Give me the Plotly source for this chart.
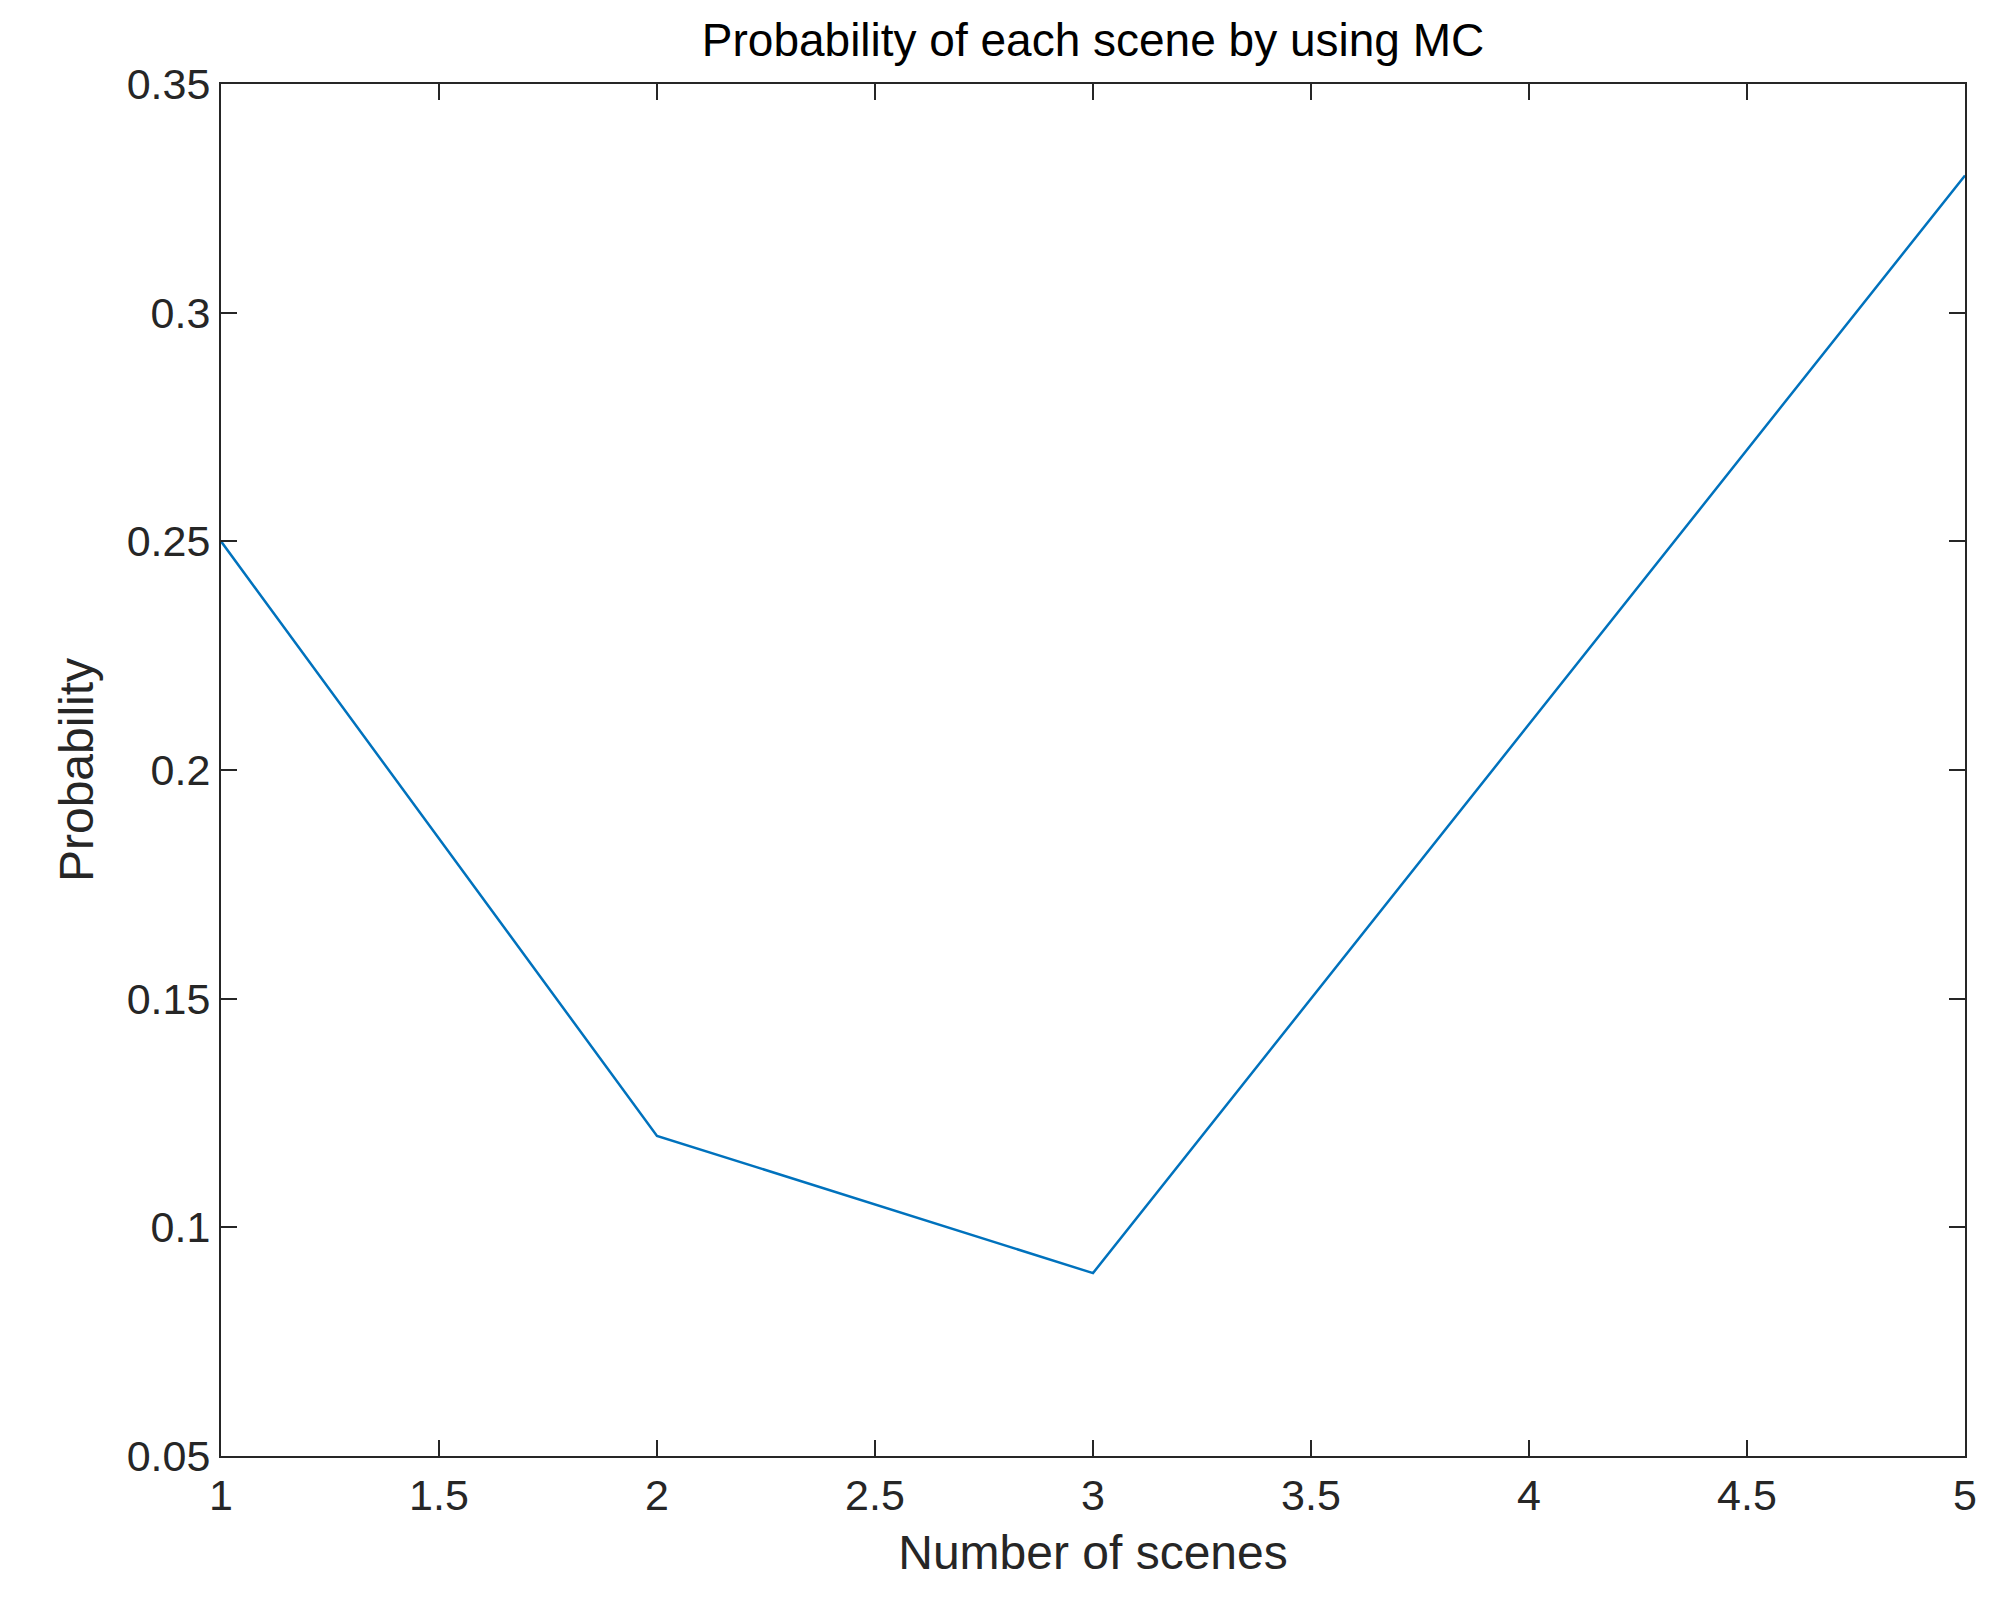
import plotly.graph_objects as go

scenes = [1, 2, 3, 4, 5]
probability = [0.25, 0.12, 0.09, 0.21, 0.33]
x_ticks = [1, 1.5, 2, 2.5, 3, 3.5, 4, 4.5, 5]
y_ticks = [0.05, 0.1, 0.15, 0.2, 0.25, 0.3, 0.35]

fig = go.Figure(go.Scatter(x=scenes, y=probability, mode="lines",
                           line=dict(color="#0072BD", width=2.5)))
axis_common = dict(showline=True, mirror="ticks", linecolor="#262626", linewidth=2,
                   ticks="inside", ticklen=16, tickwidth=2, tickcolor="#262626",
                   showgrid=False, zeroline=False,
                   tickfont=dict(size=43, color="#262626"))
fig.update_xaxes(range=[1, 5], tickvals=x_ticks, ticktext=[f"{v:g}" for v in x_ticks],
                 title=dict(text="Number of scenes", font=dict(size=48, color="#262626"), standoff=18),
                 **axis_common)
fig.update_yaxes(range=[0.05, 0.35], tickvals=y_ticks, ticktext=[f"{v:g}" for v in y_ticks],
                 title=dict(text="Probability", font=dict(size=48, color="#262626"), standoff=18),
                 **axis_common)
fig.update_layout(
    width=1999, height=1621,
    margin=dict(l=213, r=42, t=76, b=173),
    plot_bgcolor="white", paper_bgcolor="white",
    font=dict(family="Liberation Sans, Arial, sans-serif", color="#262626"),
    title=dict(text="Probability of each scene by using MC", xref="paper", x=0.5, xanchor="center",
               y=0.99, yanchor="top", font=dict(size=46, color="#000000")),
    showlegend=False,
)
fig.write_html("out.html")
